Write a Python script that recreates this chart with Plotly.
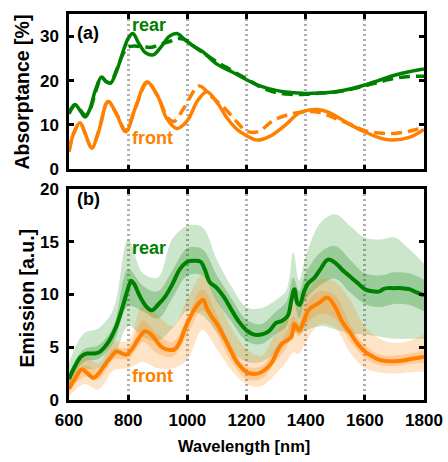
import plotly.graph_objects as go

GREEN = "rgb(0,128,0)"
ORANGE = "rgb(255,128,0)"
FONT = "Liberation Sans, Arial, sans-serif"

# ---------------- (a) absorptance ----------------
rear_sim_wl = [600, 620, 640, 655, 670, 690, 710, 725, 740, 760, 785, 800, 816, 835, 860, 885,
               910, 940, 965, 990, 1020, 1050, 1100, 1150, 1200, 1250, 1300, 1350, 1400, 1450,
               1500, 1550, 1600, 1650, 1700, 1750, 1800]
rear_sim = [12.8, 14.6, 13.0, 11.8, 13.5, 18.0, 20.8, 19.8, 19.4, 22.0, 27.0, 29.5, 30.6, 28.5, 26.2, 25.8,
            27.5, 30.0, 30.6, 29.3, 27.8, 26.6, 23.7, 22.0, 20.2, 18.7, 17.8, 17.3, 17.1, 17.2,
            17.5, 18.1, 19.0, 20.1, 21.2, 22.0, 22.6]

rear_exp_wl = [600, 620, 640, 655, 670, 690, 710, 725, 740, 760, 785, 800, 820, 850, 880, 910,
               940, 970, 1000, 1030, 1060, 1100, 1150, 1200, 1250, 1300, 1350, 1400, 1450, 1500,
               1550, 1600, 1650, 1700, 1750, 1800]
rear_exp = [12.5, 14.4, 13.2, 12.2, 13.3, 17.5, 20.8, 19.8, 19.5, 22.3, 26.3, 27.5, 27.8, 27.6, 27.5, 28.2,
            28.8, 29.5, 29.0, 27.3, 26.0, 24.2, 22.3, 20.4, 18.5, 17.3, 16.9, 16.9, 17.2, 17.4,
            18.0, 18.8, 19.7, 20.5, 20.9, 21.0]

front_sim_wl = [600, 615, 637, 655, 677, 700, 732, 760, 792, 825, 863, 900, 930, 964, 1000, 1035,
                1066, 1102, 1136, 1170, 1200, 1237, 1280, 1328, 1379, 1436, 1480, 1547, 1604,
                1650, 1690, 1750, 1800]
front_sim = [4.0, 8.0, 10.5, 8.0, 4.8, 8.5, 15.3, 12.5, 8.5, 14.0, 19.7, 16.5, 11.5, 9.2, 11.0, 15.5,
             17.5, 14.9, 11.4, 8.9, 7.6, 6.6, 7.5, 9.8, 12.7, 13.5, 12.8, 10.2, 8.3,
             7.1, 6.6, 7.2, 9.0]

front_exp_wl = [600, 615, 637, 655, 677, 700, 732, 760, 792, 825, 865, 900, 935, 955, 990, 1040,
                1080, 1130, 1170, 1200, 1240, 1290, 1340, 1400, 1450, 1500, 1550, 1600, 1650,
                1700, 1750, 1800]
front_exp = [4.0, 8.0, 10.5, 8.0, 4.8, 8.5, 15.3, 12.6, 8.8, 14.0, 19.5, 16.5, 11.5, 10.8, 14.0, 18.8,
             16.5, 13.5, 10.5, 8.6, 8.5, 11.0, 12.3, 13.0, 12.8, 11.5, 10.2, 8.7, 8.2,
             8.1, 8.6, 9.5]

# ---------------- (b) emission ----------------
rear_em_wl = [600, 620, 640, 660, 680, 700, 720, 740, 760, 780, 800, 810, 820, 840, 860, 880,
              900, 925, 950, 975, 1000, 1025, 1045, 1060, 1075, 1100, 1125, 1150, 1175, 1200,
              1225, 1250, 1275, 1300, 1320, 1340, 1352, 1362, 1372, 1380, 1395, 1410, 1430,
              1450, 1475, 1500, 1525, 1550, 1575, 1600, 1625, 1650, 1662, 1675, 1700, 1725,
              1750, 1775, 1800]
rear_em = [2.0, 3.2, 4.1, 4.4, 4.4, 4.5, 5.0, 5.8, 7.0, 8.7, 10.6, 11.3, 11.0, 9.8, 8.9, 8.5,
           9.0, 9.8, 11.0, 12.4, 13.1, 13.2, 13.1, 12.3, 11.2, 10.6, 9.7, 8.5, 7.4, 6.6,
           6.2, 6.2, 6.5, 7.3, 7.5, 8.0, 9.5, 10.5, 9.2, 9.0, 10.3, 11.1, 11.6,
           12.4, 13.3, 13.0, 12.3, 11.7, 11.1, 10.5, 10.3, 10.3, 10.5, 10.6, 10.6, 10.6,
           10.5, 10.2, 9.9]

front_em_wl = [600, 620, 643, 660, 682, 700, 720, 740, 761, 780, 795, 812, 835, 856, 875, 890,
               910, 930, 957, 975, 991, 1018, 1040, 1053, 1069, 1085, 1103, 1120, 1136, 1170,
               1204, 1237, 1260, 1284, 1318, 1340, 1352, 1362, 1372, 1379, 1395, 1412, 1446,
               1474, 1500, 1524, 1550, 1571, 1600, 1615, 1650, 1671, 1716, 1760, 1800]
front_em = [1.1, 2.0, 2.9, 2.6, 2.1, 2.5, 3.3, 4.0, 4.6, 4.4, 4.3, 4.8, 5.8, 6.5, 6.3, 5.8,
            5.1, 4.8, 4.8, 5.5, 6.7, 8.3, 9.2, 9.5, 8.5, 7.8, 7.1, 6.2, 5.3, 3.5,
            2.6, 2.5, 2.8, 3.5, 5.3, 5.7, 6.0, 7.2, 6.8, 6.6, 7.6, 8.6, 9.2,
            9.7, 8.8, 7.4, 6.4, 5.5, 4.6, 4.3, 3.8, 3.7, 3.7, 3.9, 4.1]

band_wl = [600, 650, 700, 750, 800, 850, 900, 950, 1000, 1050, 1100, 1150, 1200, 1250, 1300,
           1335, 1358, 1378, 1400, 1450, 1500, 1550, 1600, 1650, 1700, 1750, 1800]
rear_full_hi = [3.5, 6.3, 6.8, 8.6, 15.2, 12.0, 11.6, 15.3, 16.5, 16.4, 13.3, 10.7, 8.8, 8.7, 9.5,
                10.4, 14.0, 11.3, 13.6, 16.8, 17.6, 16.5, 15.4, 15.2, 15.4, 14.3, 12.9]
rear_full_lo = [0.8, 2.8, 3.0, 4.0, 7.0, 6.0, 5.6, 6.8, 8.4, 8.0, 6.4, 4.6, 3.6, 3.6, 4.5,
                5.5, 6.5, 6.2, 6.6, 7.0, 6.7, 6.3, 6.2, 6.0, 5.8, 5.8, 5.8]
rear_std_hi = [2.5, 4.8, 5.2, 7.0, 12.4, 10.8, 10.3, 12.3, 14.4, 14.3, 11.8, 9.6, 7.6, 7.2, 8.4,
               9.3, 11.6, 10.3, 12.0, 14.0, 14.6, 13.3, 12.0, 11.8, 12.1, 12.0, 11.4]
rear_std_lo = [1.5, 3.6, 3.9, 5.4, 8.9, 8.4, 7.7, 9.7, 11.8, 11.8, 9.3, 7.4, 5.6, 5.3, 6.3,
               7.0, 9.4, 7.8, 9.5, 10.9, 11.5, 10.2, 9.1, 8.8, 9.1, 9.0, 8.4]
front_full_hi = [2.0, 4.2, 3.5, 5.5, 5.6, 9.0, 8.0, 7.0, 9.5, 11.8, 9.5, 6.8, 4.8, 4.2, 6.5,
                 7.8, 9.5, 8.5, 10.0, 11.5, 11.2, 9.5, 7.0, 5.8, 5.4, 5.6, 6.2]
front_full_lo = [0.3, 1.5, 1.0, 2.8, 3.0, 3.6, 3.0, 3.0, 3.8, 6.6, 4.8, 2.8, 1.5, 1.3, 2.5,
                 3.6, 4.5, 4.4, 5.5, 7.2, 6.8, 4.5, 3.0, 2.6, 2.5, 2.6, 2.7]
front_std_hi = [1.6, 3.3, 2.9, 4.9, 5.0, 7.5, 6.2, 5.5, 7.8, 10.5, 8.0, 5.1, 3.2, 3.2, 5.0,
                6.4, 7.9, 7.2, 9.1, 10.3, 9.9, 7.2, 5.2, 4.3, 4.2, 4.4, 4.7]
front_std_lo = [0.7, 2.2, 2.0, 3.8, 3.9, 5.5, 4.4, 4.1, 6.2, 8.5, 6.3, 3.6, 2.0, 2.0, 3.7,
                5.0, 6.5, 6.0, 7.1, 8.2, 7.7, 5.6, 4.0, 3.3, 3.2, 3.4, 3.5]

x_ticks = [600, 800, 1000, 1200, 1400, 1600, 1800]
abs_ticks = [0, 10, 20, 30]
em_ticks = [0, 5, 10, 15, 20]

fig = go.Figure()


def band(lo, hi, color, yaxis):
    fig.add_trace(go.Scatter(x=band_wl, y=lo, mode="lines", line=dict(width=0, shape="spline"),
                             hoverinfo="skip", showlegend=False, xaxis="x2", yaxis=yaxis))
    fig.add_trace(go.Scatter(x=band_wl, y=hi, mode="lines", line=dict(width=0, shape="spline"),
                             fill="tonexty", fillcolor=color, hoverinfo="skip",
                             showlegend=False, xaxis="x2", yaxis=yaxis))


# emission spread bands
band(rear_full_lo, rear_full_hi, "rgba(0,128,0,0.2)", "y2")
band(rear_std_lo, rear_std_hi, "rgba(0,128,0,0.25)", "y2")
band(front_full_lo, front_full_hi, "rgba(255,128,0,0.22)", "y2")
band(front_std_lo, front_std_hi, "rgba(255,128,0,0.25)", "y2")

fig.add_trace(go.Scatter(x=rear_em_wl, y=rear_em, mode="lines",
                         line=dict(color=GREEN, width=4, shape="spline"),
                         showlegend=False, xaxis="x2", yaxis="y2"))
fig.add_trace(go.Scatter(x=front_em_wl, y=front_em, mode="lines",
                         line=dict(color=ORANGE, width=4, shape="spline"),
                         showlegend=False, xaxis="x2", yaxis="y2"))

# absorptance curves
fig.add_trace(go.Scatter(x=rear_exp_wl, y=rear_exp, mode="lines",
                         line=dict(color=GREEN, width=3.5, dash="11px,6px", shape="spline"),
                         showlegend=False, xaxis="x", yaxis="y"))
fig.add_trace(go.Scatter(x=rear_sim_wl, y=rear_sim, mode="lines",
                         line=dict(color=GREEN, width=3.5, shape="spline"),
                         showlegend=False, xaxis="x", yaxis="y"))
fig.add_trace(go.Scatter(x=front_exp_wl, y=front_exp, mode="lines",
                         line=dict(color=ORANGE, width=3.5, dash="11px,6px", shape="spline"),
                         showlegend=False, xaxis="x", yaxis="y"))
fig.add_trace(go.Scatter(x=front_sim_wl, y=front_sim, mode="lines",
                         line=dict(color=ORANGE, width=3.5, shape="spline"),
                         showlegend=False, xaxis="x", yaxis="y"))

tick_font = dict(family=FONT, size=17, color="black", weight="bold")

common_x = dict(range=[600, 1800], tickvals=x_ticks, showgrid=True, gridcolor="#b0b0b0",
                gridwidth=2.5, griddash="2px,3px", showline=True, linecolor="black", linewidth=2.5,
                mirror="allticks", ticks="inside", ticklen=5, tickwidth=2.5, tickcolor="black",
                zeroline=False, tickfont=tick_font)
common_y = dict(showgrid=False, showline=True, linecolor="black", linewidth=2.5,
                mirror="allticks", ticks="inside", ticklen=5, tickwidth=2.5, tickcolor="black",
                zeroline=False, tickfont=tick_font, ticklabelstandoff=4)

fig.update_layout(
    width=448, height=462,
    margin=dict(l=69, r=23, t=5, b=62),
    plot_bgcolor="white", paper_bgcolor="white",
    xaxis=dict(common_x, domain=[0, 1], anchor="y", showticklabels=False),
    yaxis=dict(common_y, domain=[0.5975, 1.0], anchor="x", range=[0, 35], tickvals=abs_ticks),
    xaxis2=dict(common_x, domain=[0, 1], anchor="y2", ticklabelstandoff=3),
    yaxis2=dict(common_y, domain=[0, 0.5468], anchor="x2", range=[0, 20], tickvals=em_ticks),
)

# axis titles
fig.add_annotation(x=-0.132, y=0.797, xref="paper", yref="paper", text="Absorptance [%]",
                   textangle=-90, showarrow=False, xanchor="center", yanchor="middle",
                   font=dict(family=FONT, size=19.5, color="black", weight="bold"))
fig.add_annotation(x=-0.118, y=0.263, xref="paper", yref="paper", text="Emission [a.u.]",
                   textangle=-90, showarrow=False, xanchor="center", yanchor="middle",
                   font=dict(family=FONT, size=19.5, color="black", weight="bold"))
fig.add_annotation(x=0.494, y=-0.119, xref="paper", yref="paper", text="Wavelength [nm]",
                   showarrow=False, xanchor="center", yanchor="middle",
                   font=dict(family=FONT, size=16.5, color="black", weight="bold"))

label_font = dict(family=FONT, size=18, weight="bold")
fig.add_annotation(x=0.016, y=0.88, xref="x domain", yref="y domain", text="(a)", showarrow=False,
                   xanchor="left", yanchor="middle", font=dict(label_font, color="black"))
fig.add_annotation(x=0.016, y=0.95, xref="x2 domain", yref="y2 domain", text="(b)", showarrow=False,
                   xanchor="left", yanchor="middle", font=dict(label_font, color="black"))
fig.add_annotation(x=807, y=32.5, xref="x", yref="y", text="rear", showarrow=False,
                   xanchor="left", yanchor="middle", font=dict(label_font, color=GREEN))
fig.add_annotation(x=807, y=7.0, xref="x", yref="y", text="front", showarrow=False,
                   xanchor="left", yanchor="middle", font=dict(label_font, color=ORANGE))
fig.add_annotation(x=807, y=14.4, xref="x2", yref="y2", text="rear", showarrow=False,
                   xanchor="left", yanchor="middle", font=dict(label_font, color=GREEN))
fig.add_annotation(x=807, y=2.3, xref="x2", yref="y2", text="front", showarrow=False,
                   xanchor="left", yanchor="middle", font=dict(label_font, color=ORANGE))

fig.write_html("out.html")
